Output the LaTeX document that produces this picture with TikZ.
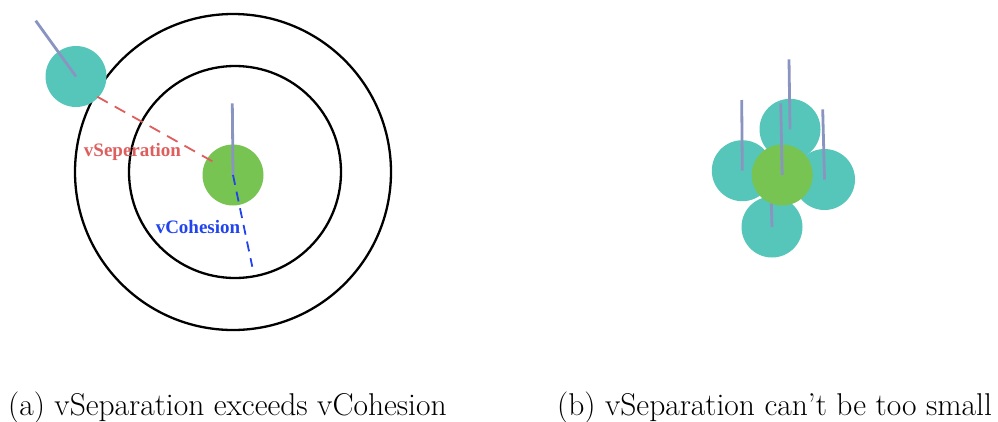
\documentclass[tikz,border=0pt]{standalone}
\usepackage{fontspec}
\newfontfamily\lblfont{Liberation Serif}
\begin{document}
\begin{tikzpicture}[x=1pt,y=-1pt,
  teal/.style={circle,fill=tealc,minimum size=61pt,inner sep=0pt,draw=none},
  grn/.style={circle,fill=greenc,minimum size=61pt,inner sep=0pt,draw=none},
  ring/.style={draw=black,line width=2.3pt},
  vel/.style={draw=velc,line width=2.8pt},
  sepl/.style={draw=redc,line width=1.8pt,dash pattern=on 12pt off 8pt},
  cohl/.style={draw=bluec,line width=1.8pt,dash pattern=on 10pt off 7pt},
  captxt/.style={inner sep=0pt,font=\fontsize{31.5}{36}\selectfont,anchor=west},
  lbl/.style={inner sep=0pt,font=\lblfont\bfseries\fontsize{19}{22}\selectfont}
]
\definecolor{tealc}{RGB}{86,198,186}
\definecolor{greenc}{RGB}{119,196,83}
\definecolor{velc}{RGB}{138,148,192}
\definecolor{redc}{RGB}{222,94,94}
\definecolor{bluec}{RGB}{34,68,238}
\useasboundingbox (0,0) rectangle (998,421);
% ---- (a) ----
\node[circle,ring,minimum size=316pt,inner sep=0pt] (outer) at (233,172) {};
\node[circle,ring,minimum size=212pt,inner sep=0pt] (inner) at (235,172) {};
\node[teal] (ta) at (76,76.5) {};
\coordinate (tav) at (35.7,20.7);
\draw[vel] (ta.center) -- (tav);
\node[grn] (ga) at (233,175) {};
\coordinate (gav) at (232.3,103.3);
\draw[vel] (ga.center) -- (gav);
\coordinate (sepS) at (97.3,96.7);
\coordinate (sepE) at (217.7,164.3);
\draw[sepl] (sepS) -- (sepE);
\coordinate (cohE) at (252.3,266.7);
\draw[cohl] (ga.center) -- (cohE);
\node[lbl,text=redc] (lsep) at (132.5,151.5) {vSeperation};
\node[lbl,text=bluec] (lcoh) at (198,226.5) {vCohesion};
% ---- (b) ----
\node[teal] (tt) at (790,129.3) {};
\node[teal] (tl) at (742.3,170.7) {};
\node[teal] (tr) at (824.5,179.5) {};
\node[teal] (tb) at (772,227) {};
\coordinate (ttv) at (789,59.3);
\coordinate (tlv) at (741.7,100);
\coordinate (trv) at (822.7,109.3);
\coordinate (tbv) at (770,157);
\draw[vel] (tt.center) -- (ttv);
\draw[vel] (tl.center) -- (tlv);
\draw[vel] (tr.center) -- (trv);
\draw[vel] (tb.center) -- (tbv);
\node[grn] (gb) at (782.2,175) {};
\coordinate (gbv) at (780.7,103.3);
\draw[vel] (gb.center) -- (gbv);
% ---- captions ----
\node[captxt] (capa) at (8,408) {(a) vSeparation exceeds vCohesion};
\node[captxt] (capb) at (557,408) {(b) vSeparation can't be too small};
\end{tikzpicture}
\end{document}
